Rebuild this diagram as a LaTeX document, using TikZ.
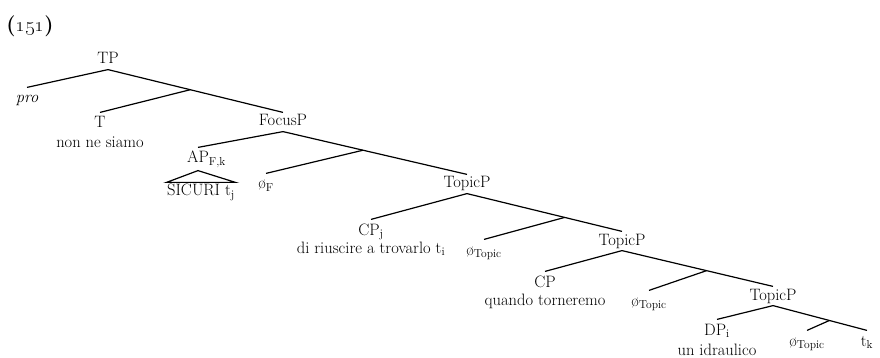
\documentclass[tikz,border=0pt]{standalone}
\tikzset{
  cat/.style={anchor=base, inner xsep=1pt, inner ysep=2pt, text height=11pt, text depth=3pt},
  leaf/.style={anchor=base, inner xsep=1pt, inner ysep=4pt, text height=11pt, text depth=3pt},
  roof/.style={anchor=base, inner xsep=0pt, inner ysep=2pt, text height=11pt},
  gloss/.style={anchor=base, inner sep=0pt},
}
\begin{document}
\begin{tikzpicture}[x=1pt, y=-1pt, line width=1.2pt, font=\fontsize{16.5}{19}\selectfont]
    \useasboundingbox (0,0) rectangle (880,358);
    \node[font=\fontsize{21}{24}\selectfont\bfseries] (exno) at (30,26) {(\oldstylenums{151})};

    % Phrase labels
    \node[cat] (tp) at (108,64) {TP};
    \node[cat] (fp) at (283,126) {FocusP};
    \node[cat] (top1) at (467,188) {TopicP};
    \node[cat] (top2) at (622,245) {TopicP};
    \node[cat] (top3) at (773,300) {TopicP};

    % Leaves
    \node[leaf] (pro) at (27,103) {\textit{pro}};
    \node[leaf] (t) at (100,128) {T};
    \node[leaf] (ap) at (198,163) {AP\rlap{\textsubscript{F,k}}};
    \node[roof] (sicuri) at (201,196) {SICURI t\textsubscript{j}};
    \node[leaf] (nullf) at (266,189) {\o\textsubscript{F}};
    \node[leaf] (cpj) at (371,235) {CP\textsubscript{j}};
    \node[leaf] (nulltop1) at (484,255) {\o\textsubscript{Topic}};
    \node[leaf] (cp) at (545,287) {CP};
    \node[leaf] (nulltop2) at (649,306) {\o\textsubscript{Topic}};
    \node[leaf] (dpi) at (717,335) {DP\textsubscript{i}};
    \node[leaf] (nulltop3) at (807,346) {\o\textsubscript{Topic}};
    \node[leaf] (tk) at (867,346) {t\textsubscript{k}};

    % Words under the leaves
    \node[gloss] (tw) at ([yshift=-20pt]t.base) {non ne siamo};
    \node[gloss] (cpjw) at ([yshift=-18pt]cpj.base) {di riuscire a trovarlo t\textsubscript{i}};
    \node[gloss] (cpw) at ([yshift=-18pt]cp.base) {quando torneremo};
    \node[gloss] (dpiw) at ([yshift=-20pt]dpi.base) {un idraulico};

    % Branches
    \draw (tp.south) -- (pro.north);
    \draw (tp.south) -- coordinate[pos=0.47] (tbar) (fp.north);
    \draw (tbar) -- (t.north);
    \draw (fp.south) -- (ap.north);
    \draw (fp.south) -- coordinate[pos=0.435] (fbar) (top1.north);
    \draw (fbar) -- (nullf.north);
    \draw (ap.south) -- (sicuri.north west) -- (sicuri.north east) -- cycle;
    \draw (top1.south) -- (cpj.north);
    \draw (top1.south) -- coordinate[pos=0.63] (t1bar) (top2.north);
    \draw (t1bar) -- (nulltop1.north);
    \draw (top2.south) -- (cp.north);
    \draw (top2.south) -- coordinate[pos=0.56] (t2bar) (top3.north);
    \draw (t2bar) -- (nulltop2.north);
    \draw (top3.south) -- (dpi.north);
    \draw (top3.south) -- coordinate[pos=0.6] (t3bar) (tk.north);
    \draw (t3bar) -- (nulltop3.north);
\end{tikzpicture}
\end{document}
